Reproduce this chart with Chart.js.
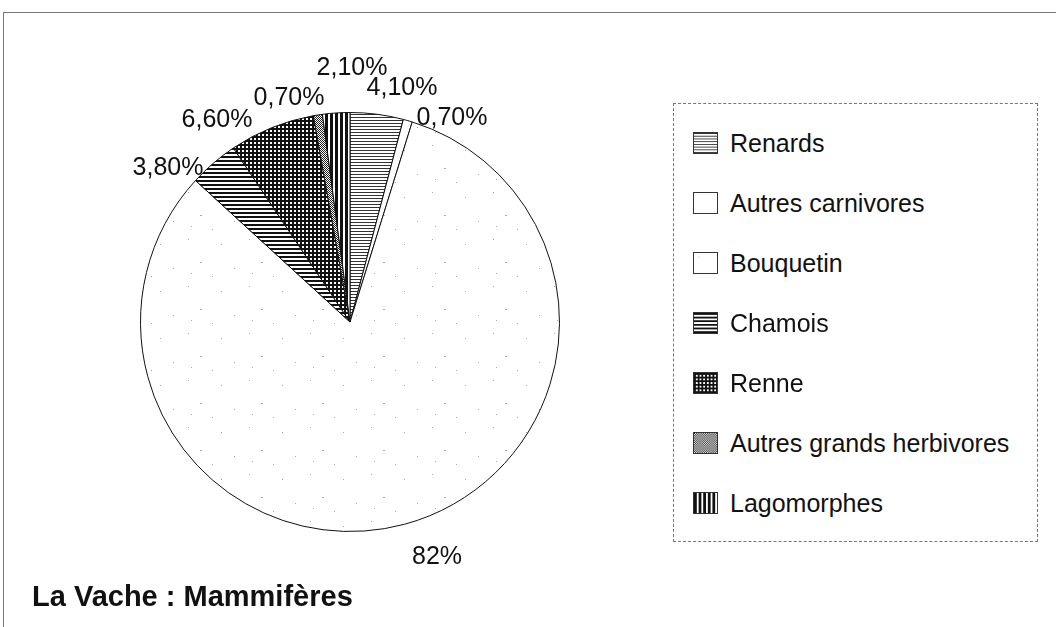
<!DOCTYPE html>
<html>
<head>
<meta charset="utf-8">
<script src="https://cdn.jsdelivr.net/npm/chart.js@4"></script>
<style>
  body { margin: 0; background: #fff; font-family: "Liberation Sans", Arial, sans-serif; }
  #wrap { position: relative; width: 1056px; height: 627px; overflow: hidden; }
  #frame { position: absolute; left: 3px; top: 12px; width: 1060px; height: 630px; border: 1px solid #777; }
  #pie { position: absolute; left: 0; top: 0; }
  #legend { position: absolute; left: 673px; top: 103px; width: 363px; height: 437px; border: 1px dashed #777; background: #fff; }
  .item { position: absolute; left: 19px; height: 30px; display: flex; align-items: center; font-size: 25px; color: #111; white-space: nowrap; }
  .item canvas { width: 25px; height: 22px; margin-right: 12px; border: 1px solid #333; box-sizing: border-box; }
  #title { position: absolute; left: 32px; top: 580px; font-size: 29px; font-weight: bold; color: #111; }
</style>
</head>
<body>
<div id="wrap">
  <div id="frame"></div>
  <canvas id="pie" width="1056" height="627"></canvas>
  <div id="legend"></div>
  <div id="title">La Vache : Mammifères</div>
</div>
<script>
var categories = ["Renards", "Autres carnivores", "Bouquetin", "Chamois", "Renne", "Autres grands herbivores", "Lagomorphes"];
var percents = [4.1, 0.7, 82, 3.8, 6.6, 0.7, 2.1];
var fills = ["hlines", "blank", "dots", "hbars", "grid", "checker", "vlines"];

// where each label sits, relative to the pie centre (px)
var labelOffsets = [[52, -234], [102, -204], [87, 235], [-182, -154], [-133, -202], [-61, -224], [2, -254]];

function makePattern(kind) {
    var c = document.createElement('canvas');
    var g;
    if (kind == "hlines") {
        c.width = 4; c.height = 3; g = c.getContext('2d');
        g.fillStyle = '#fff'; g.fillRect(0, 0, 4, 3);
        g.fillStyle = '#333'; g.fillRect(0, 0, 4, 1);
    } else if (kind == "hbars") {
        c.width = 4; c.height = 4; g = c.getContext('2d');
        g.fillStyle = '#fff'; g.fillRect(0, 0, 4, 4);
        g.fillStyle = '#111'; g.fillRect(0, 0, 4, 2);
    } else if (kind == "vlines") {
        c.width = 5; c.height = 4; g = c.getContext('2d');
        g.fillStyle = '#fff'; g.fillRect(0, 0, 5, 4);
        g.fillStyle = '#111'; g.fillRect(0, 0, 3, 4);
    } else if (kind == "grid") {
        c.width = 4; c.height = 4; g = c.getContext('2d');
        g.fillStyle = '#fff'; g.fillRect(0, 0, 4, 4);
        g.fillStyle = '#111'; g.fillRect(0, 0, 4, 2); g.fillRect(0, 0, 2, 4);
    } else if (kind == "checker") {
        c.width = 2; c.height = 2; g = c.getContext('2d');
        g.fillStyle = '#fff'; g.fillRect(0, 0, 2, 2);
        g.fillStyle = '#222'; g.fillRect(0, 0, 1, 1); g.fillRect(1, 1, 1, 1);
    } else if (kind == "dots") {
        c.width = 61; c.height = 47; g = c.getContext('2d');
        g.fillStyle = '#fff'; g.fillRect(0, 0, 61, 47);
        g.fillStyle = '#aaa';
        g.fillRect(5, 4, 1, 1); g.fillRect(38, 9, 1, 1); g.fillRect(17, 27, 2, 1);
        g.fillRect(51, 33, 1, 1); g.fillRect(29, 41, 1, 1); g.fillRect(8, 38, 1, 1);
    } else {
        c.width = 2; c.height = 2; g = c.getContext('2d');
        g.fillStyle = '#fff'; g.fillRect(0, 0, 2, 2);
    }
    return c;
}

var patterns = fills.map(function(k) {
    return document.createElement('canvas').getContext('2d').createPattern(makePattern(k), 'repeat');
});

function fmt(v) {
    if (v == Math.round(v)) return v + '%';
    return v.toFixed(2).replace('.', ',') + '%';
}

var pieLabels = {
    id: 'pieLabels',
    afterDatasetsDraw: function(chart) {
        var ctx = chart.ctx;
        var arcs = chart.getDatasetMeta(0).data;
        ctx.save();
        ctx.font = '25px "Liberation Sans", Arial, sans-serif';
        ctx.fillStyle = '#111';
        ctx.textAlign = 'center';
        ctx.textBaseline = 'middle';
        arcs.forEach(function(arc, i) {
            var o = labelOffsets[i];
            ctx.fillText(fmt(percents[i]), arc.x + o[0], arc.y + o[1]);
        });
        ctx.restore();
    }
};

var PieChart = new Chart(document.getElementById("pie").getContext("2d"), {
    type: 'pie',
    data: {
        labels: categories,
        datasets: [{
            data: percents,
            backgroundColor: patterns,
            borderColor: '#111',
            borderWidth: 1
        }]
    },
    options: {
        responsive: false,
        animation: false,
        layout: { padding: { left: 140, right: 496, top: 112, bottom: 95 } },
        plugins: {
            legend: { display: false },
            tooltip: { enabled: false }
        }
    },
    plugins: [pieLabels]
});

// legend
var legend = document.getElementById('legend');
categories.forEach(function(name, i) {
    var row = document.createElement('div');
    row.className = 'item';
    row.style.top = (24 + 60 * i) + 'px';
    var sw = document.createElement('canvas');
    sw.width = 25; sw.height = 22;
    var g = sw.getContext('2d');
    g.fillStyle = g.createPattern(makePattern(fills[i]), 'repeat');
    g.fillRect(0, 0, 25, 22);
    row.appendChild(sw);
    row.appendChild(document.createTextNode(name));
    legend.appendChild(row);
});
</script>
</body>
</html>
